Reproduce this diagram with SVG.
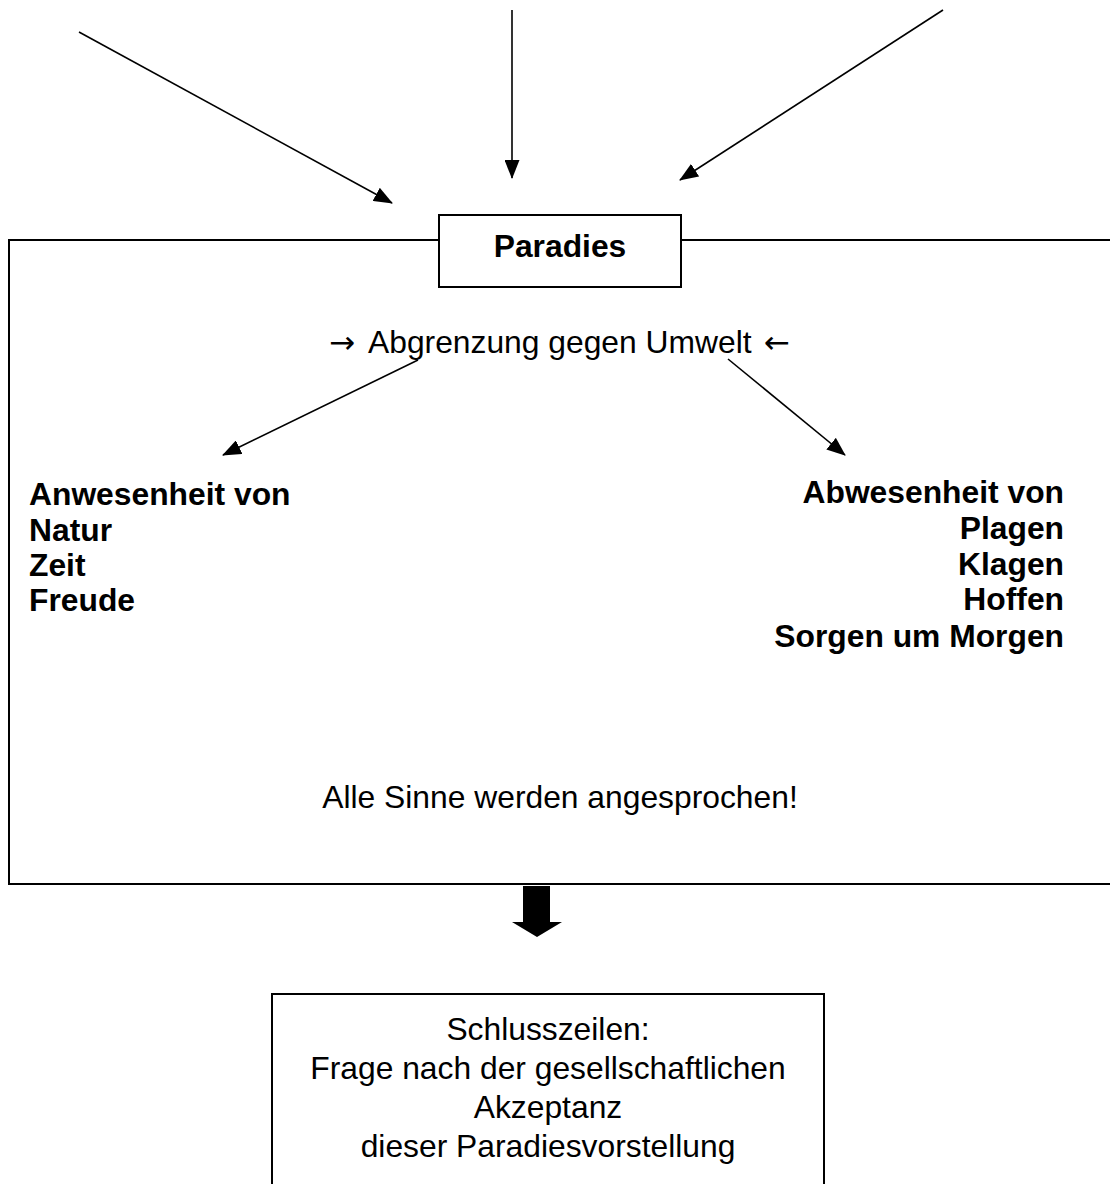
<svg xmlns="http://www.w3.org/2000/svg" width="1110" height="1184" viewBox="0 0 1110 1184">
<defs>
<marker id="ah" markerWidth="19" markerHeight="15" refX="18" refY="7.5" orient="auto" markerUnits="userSpaceOnUse">
<path d="M0,0 L19,7.5 L0,15 Z" fill="#000"/>
</marker>
<style>
.t{font-family:"Liberation Sans",Arial,sans-serif;font-size:31.8px;fill:#000}
.ar{font-family:"DejaVu Sans",sans-serif;font-size:31px;fill:#000}
.b{font-weight:bold}
.ln{stroke:#000;stroke-width:2;fill:none}
.cn{stroke:#000;stroke-width:1.6;fill:none;marker-end:url(#ah)}
</style>
</defs>
<rect width="1110" height="1184" fill="#fff"/>
<g id="frame">
<path class="ln" d="M1110,240 H681 M439,240 H9 V884 H1110"/>
</g>
<g id="paradies">
<rect class="ln" x="439" y="215" width="242" height="72" fill="#fff"/>
<text class="t b" x="560" y="257" text-anchor="middle">Paradies</text>
</g>
<g id="abgrenzung">
<text class="ar" x="329" y="353">→</text>
<text class="t" x="368" y="353">Abgrenzung gegen Umwelt</text>
<text class="ar" x="764" y="353">←</text>
</g>
<g id="anwesenheit">
<text class="t b" x="29" y="505">Anwesenheit von</text>
<text class="t b" x="29" y="541">Natur</text>
<text class="t b" x="29" y="576">Zeit</text>
<text class="t b" x="29" y="611">Freude</text>
</g>
<g id="abwesenheit">
<text class="t b" x="1064" y="503" text-anchor="end">Abwesenheit von</text>
<text class="t b" x="1064" y="539" text-anchor="end">Plagen</text>
<text class="t b" x="1064" y="575" text-anchor="end">Klagen</text>
<text class="t b" x="1064" y="610" text-anchor="end">Hoffen</text>
<text class="t b" x="1064" y="647" text-anchor="end">Sorgen um Morgen</text>
</g>
<g id="sinne">
<text class="t" x="560" y="808" text-anchor="middle">Alle Sinne werden angesprochen!</text>
</g>
<g id="schluss">
<path class="ln" d="M272,1186 V994 H824 V1186"/>
<text class="t" x="548" y="1040" text-anchor="middle">Schlusszeilen:</text>
<text class="t" x="548" y="1079" text-anchor="middle">Frage nach der gesellschaftlichen</text>
<text class="t" x="548" y="1118" text-anchor="middle">Akzeptanz</text>
<text class="t" x="548" y="1157" text-anchor="middle">dieser Paradiesvorstellung</text>
</g>
<g id="connectors">
<line class="cn" x1="79" y1="32" x2="392" y2="203"/>
<line class="cn" x1="512" y1="10" x2="512" y2="178"/>
<line class="cn" x1="943" y1="10" x2="680" y2="180"/>
<line class="cn" x1="418" y1="360" x2="223" y2="455"/>
<line class="cn" x1="728" y1="359" x2="845" y2="455"/>
<polygon points="523,886 550,886 550,922 562,922 537,937 512,922 523,922" fill="#000"/>
</g>
</svg>
